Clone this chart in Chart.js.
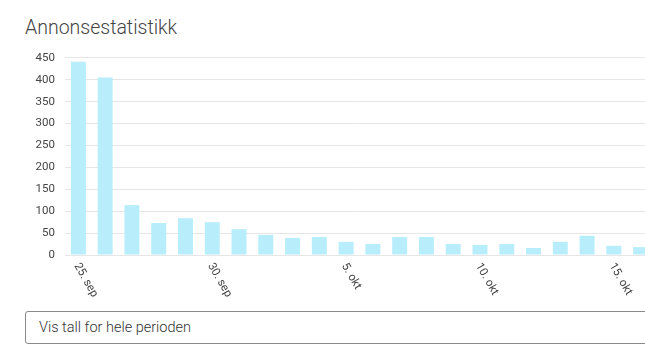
<!DOCTYPE html>
<html>
<head>
<meta charset="utf-8">
<script src="https://cdn.jsdelivr.net/npm/chart.js@4.4.0/dist/chart.umd.min.js"></script>
<style>
  html, body { margin: 0; padding: 0; background: #fff; overflow: hidden; width: 645px; height: 356px; }
  #title { position: absolute; left: 25px; top: 16px; margin: 0; font: 300 19.5px Roboto, "Liberation Sans", sans-serif; color: #444; }
  #wrap { position: absolute; left: 0; top: 41px; width: 654px; height: 262px; }
  #box { position: absolute; left: 25px; top: 311px; width: 660px; height: 33px; border: 1px solid #8a8a8a; border-radius: 3px; box-sizing: border-box; font: 300 14.5px Roboto, "Liberation Sans", sans-serif; color: #333; line-height: 31px; padding-left: 13px; }
</style>
</head>
<body>
<h2 id="title">Annonsestatistikk</h2>
<div id="wrap"><canvas id="c"></canvas></div>
<div id="box">Vis tall for hele perioden</div>
<script>
const categories = ['25. sep','26. sep','27. sep','28. sep','29. sep','30. sep','1. okt','2. okt','3. okt','4. okt','5. okt','6. okt','7. okt','8. okt','9. okt','10. okt','11. okt','12. okt','13. okt','14. okt','15. okt','16. okt'];
const views = [441, 405, 114, 73, 84, 75, 59, 46, 39, 41, 30, 25, 41, 41, 25, 23, 25, 16, 30, 44, 21, 18];
const shownTickLabels = ['25. sep', '30. sep', '5. okt', '10. okt', '15. okt'];
const yTicks = [0, 50, 100, 150, 200, 250, 300, 350, 400, 450];

const rotatedLabels = {
  id: 'rotatedLabels',
  afterDraw(chart) {
    const ctx = chart.ctx;
    const xs = chart.scales.x;
    const bottom = chart.chartArea.bottom;
    ctx.save();
    ctx.font = '11.5px Roboto, "Liberation Sans", sans-serif';
    ctx.fillStyle = '#444';
    ctx.textAlign = 'left';
    ctx.textBaseline = 'middle';
    categories.forEach((lab, i) => {
      if (!shownTickLabels.includes(lab)) return;
      const x = xs.getPixelForValue(i);
      ctx.save();
      ctx.translate(x - 2, bottom + 9);
      ctx.rotate(Math.PI / 3);
      ctx.fillText(lab, 0, 0);
      ctx.restore();
    });
    ctx.restore();
  }
};

new Chart(document.getElementById('c'), {
  type: 'bar',
  data: {
    labels: categories,
    datasets: [{
      data: views,
      backgroundColor: '#b8eefc',
      borderWidth: 0,
      categoryPercentage: 1,
      barPercentage: 0.56
    }]
  },
  options: {
    responsive: true,
    maintainAspectRatio: false,
    animation: false,
    layout: { padding: { top: 11, bottom: 40, left: 0, right: 0 } },
    plugins: { legend: { display: false }, tooltip: { enabled: false } },
    scales: {
      x: {
        grid: { display: false },
        border: { display: false },
        ticks: { display: false }
      },
      y: {
        min: 0,
        max: 450,
        afterFit(s) { s.width = 65; },
        afterBuildTicks(s) { s.ticks = yTicks.map(v => ({ value: v })); },
        grid: { color: '#e6e6e6', drawTicks: false, lineWidth: 1 },
        border: { display: false },
        ticks: { padding: 10, color: '#444', font: { family: 'Roboto, "Liberation Sans", sans-serif', size: 11.5 } }
      }
    }
  },
  plugins: [rotatedLabels]
});
</script>
</body>
</html>
